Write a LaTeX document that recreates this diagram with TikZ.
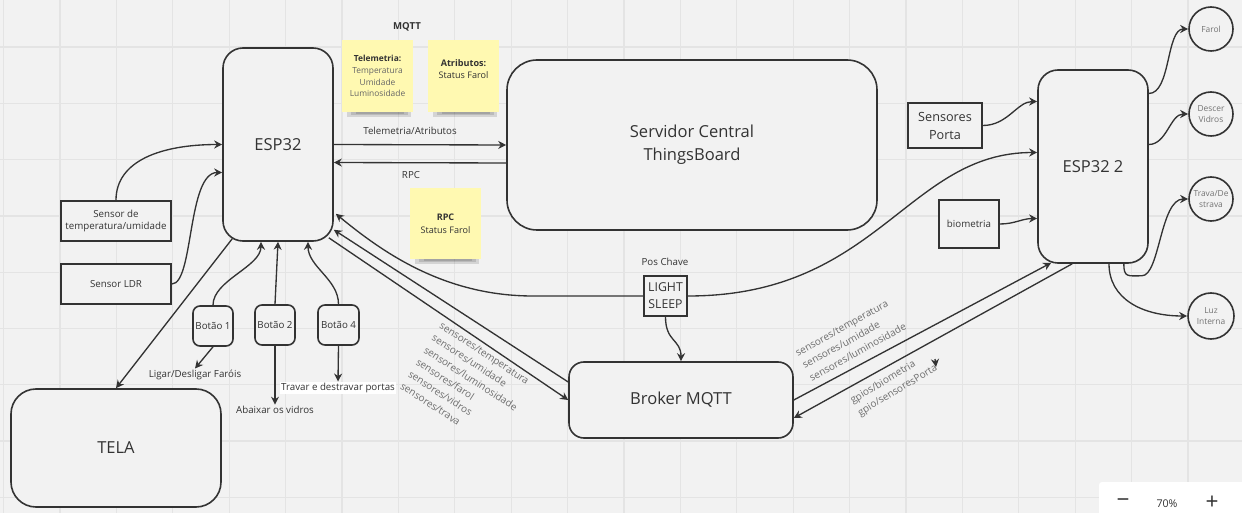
\documentclass[tikz,border=0pt]{standalone}
\usepackage{fontspec}
\setmainfont{Open Sans}
\usetikzlibrary{positioning,calc,arrows.meta}
\definecolor{bgcol}{HTML}{F2F2F2}
\definecolor{gridcol}{HTML}{E4E4E4}
\definecolor{inkcol}{HTML}{333333}
\definecolor{notecol}{HTML}{FFF9B1}
\definecolor{topiccol}{HTML}{6E6E6E}
\def\pxu{0.75pt}
\tikzset{
  dims/.style 2 args={minimum width=#1*\pxu, minimum height=#2*\pxu},
  block/.style={draw=inkcol, line width=1.2pt, fill=bgcol, text=inkcol,
    align=center, inner sep=0pt},
  bigtext/.style={font=\fontsize{12.4}{17.2}\selectfont},
  smalltext/.style={font=\fontsize{7.3}{9.2}\selectfont},
  lbl/.style={smalltext, text=inkcol, inner sep=1pt},
  note/.style={fill=notecol, align=center, inner sep=0pt, dims={71}{72},
    font=\fontsize{6.3}{8.8}\selectfont, text=inkcol},
  noteshadow/.style={fill=black, opacity=0.12},
  device/.style={block, circle, minimum size=44*\pxu,
    font=\fontsize{6.3}{8.6}\selectfont, text=black!55},
  topic/.style={font=\fontsize{7.5}{10.8}\selectfont, text=topiccol,
    align=left, inner sep=0pt},
  conn/.style={->, draw=inkcol, line width=1pt},
}
\begin{document}
\begin{tikzpicture}[x=0.75pt, y=-0.75pt, >={Stealth[length=6pt,width=6pt]}]
  \useasboundingbox (0,0) rectangle (1242,513);
  \fill[bgcol] (0,0) rectangle (1242,513);
  % grade do quadro
  \foreach \i in {0,...,21}
    \draw[gridcol, line width=1pt] (3.6+56.4*\i,0) -- ++(0,513);
  \foreach \j in {0,...,8}
    \draw[gridcol, line width=1pt] (0,47+56.3*\j) -- ++(1242,0);

  % placas e servidor
  \node[block, bigtext, dims={110}{193}, rounded corners=20*\pxu] (esp32) at (278,144.5) {ESP32};
  \node[block, bigtext, dims={370}{170}, rounded corners=30*\pxu] (server) at (692,145) {Servidor Central\\ThingsBoard};
  \node[block, bigtext, dims={110}{193}, rounded corners=20*\pxu] (esp32b) at (1093,166.5) {ESP32 2};
  \node[block, bigtext, dims={224}{76}, rounded corners=15*\pxu] (broker) at (681,400) {Broker MQTT};
  \node[block, bigtext, dims={210}{118}, rounded corners=25*\pxu] (tela) at (116,448) {TELA};

  % sensores
  \node[block, smalltext, dims={110}{40}] (tempsensor) at (116,221) {Sensor de\\temperatura/umidade};
  \node[block, smalltext, dims={110}{40}] (ldr) at (116,284) {Sensor LDR};
  \node[block, dims={74}{45}, font=\fontsize{9.5}{13.5}\selectfont] (sensporta) at (945,125.5) {Sensores\\Porta};
  \node[block, smalltext, dims={60}{48}] (biometria) at (969,224) {biometria};
  \node[block, dims={43}{40}, line width=1.5pt, font=\fontsize{9.2}{12.8}\selectfont] (sleep) at (665.5,296) {LIGHT\\SLEEP};
  \node[lbl] (poschave) at (665,262) {Pos Chave};

  % botoes
  \node[block, smalltext, dims={40}{40}, rounded corners=7*\pxu] (botao1) at (213,326) {Botão 1};
  \node[block, smalltext, dims={40}{40}, rounded corners=7*\pxu] (botao2) at (275,325) {Botão 2};
  \node[block, smalltext, dims={41}{40}, rounded corners=7*\pxu] (botao4) at (338.5,325) {Botão 4};
  \node[lbl] (ligar) at (195,375) {Ligar/Desligar Faróis};
  \node[lbl] (vidros) at (275,410) {Abaixar os vidros};
  \node[lbl, fill=white] (travar) at (338,388) {Travar e destravar portas};

  % atuadores
  \node[device] (farol) at (1211,29) {Farol};
  \node[device] (descer) at (1211,114) {Descer\\Vidros};
  \node[device] (trava) at (1211,199) {Trava/De\\strava};
  \node[device, minimum size=46*\pxu] (luz) at (1211,316) {Luz\\Interna};

  % notas MQTT
  \node[font=\bfseries\fontsize{7.2}{9}\selectfont, text=inkcol] (mqtt) at (407,27) {MQTT};
  \node[note] (notetele) at (377.5,76) {\textbf{Telemetria:}\\\color{black!60}Temperatura\\\color{black!60}Umidade\\\color{black!60}Luminosidade};
  \node[note] (noteattr) at (463.5,76) {};
  \node[note, fill=none, minimum size=0pt, font=\fontsize{6.8}{9}\selectfont] at ($(noteattr)+(0,-7)$) {\textbf{Atributos:}\\Status Farol};
  \node[note, dims={71}{71}, font=\fontsize{6.8}{9.5}\selectfont] (noterpc) at (445.5,223.5) {\textbf{RPC}\\Status Farol};
  \foreach \n in {notetele,noteattr,noterpc} {
    \fill[noteshadow] ($(\n.south west)+(5,0)$) rectangle ($(\n.south east)+(-2,5)$);
    \fill[noteshadow] ($(\n.south west)+(9,0)$) rectangle ($(\n.south east)+(-5,3)$);
    \fill[noteshadow] ($(\n.south west)+(14,0)$) rectangle ($(\n.south east)+(-9,1.5)$);
  }

  % ESP32 <-> servidor
  \draw[conn] (esp32.east) -- (server.west);
  \draw[conn] ($(server.west)+(0,18)$) -- ($(esp32.east)+(0,18)$);
  \node[lbl] at (410,131) {Telemetria/Atributos};
  \node[lbl] at (411,175) {RPC};

  % entradas da ESP32
  \draw[conn] (tempsensor.north) .. controls +(0,-40) and +(-60,0) .. (esp32.west);
  \draw[conn] (ldr.east) .. controls +(22,0) and +(-35,0) .. ($(esp32.west)+(0,28)$);
  \draw[conn] ($(esp32.south west)+(10,-3)$) -- (tela.north);
  \draw[conn] (botao1.north) .. controls +(0,-25) and +(0,25) .. ($(esp32.south)+(-17,0)$);
  \draw[conn] (botao2.north) -- (esp32.south);
  \draw[conn] (botao4.north) .. controls +(0,-25) and +(0,25) .. ($(esp32.south)+(30,0)$);
  \draw[conn] (botao1.south) -- (ligar.north);
  \draw[conn] (botao2.south) -- (vidros.north);
  \draw[conn] (botao4.south) -- (travar.north);

  % ESP32 <-> broker
  \draw[conn] ($(broker.west)+(0,-18)$) -- ($(esp32.south east)+(0,-12)$);
  \draw[conn] ($(esp32.south east)+(-5,-4)$) -- (broker.west);
  \node[topic, rotate=-33, anchor=west] (topicsa) at (421,355)
    {sensores/temperatura\\sensores/umidade\\sensores/luminosidade\\sensores/farol\\sensores/vidros\\sensores/trava};

  % chave
  \draw[conn] (sleep.west) -- ++(-110,0) .. controls +(-90,0) and +(45,37) .. ($(esp32.south east)+(2,-28)$);
  \draw[conn] (sleep.east) .. controls +(190,0) and +(-130,0) .. ($(esp32b.west)+(0,-14)$);
  \draw[conn] (sleep.south) .. controls +(0,25) and +(0,-22) .. (broker.north);

  % ESP32 2
  \draw[conn] (sensporta.east) .. controls +(25,0) and +(-20,0) .. ($(esp32b.west)+(0,-65)$);
  \draw[conn] (biometria.east) .. controls +(15,0) and +(-15,0) .. ($(esp32b.west)+(0,52)$);
  \draw[conn] ($(esp32b.east)+(0,-73)$) .. controls +(22,0) and +(-22,0) .. (farol.west);
  \draw[conn] ($(esp32b.east)+(0,-22)$) .. controls +(18,0) and +(-18,0) .. (descer.west);
  \draw[conn] ($(esp32b.south east)+(-25,0)$) .. controls +(0,14) and +(-14,0) .. ++(18,12)
    .. controls +(18,0) and +(-28,0) .. (trava.west);
  \draw[conn] ($(esp32b.south)+(16,0)$) .. controls +(0,35) and +(-45,0) .. (luz.west);

  % broker <-> ESP32 2
  \draw[conn] (broker.east) -- ($(esp32b.south west)+(14,-1)$);
  \draw[conn] ($(esp32b.south west)+(35,0)$) -- ($(broker.east)+(0,18)$);
  \node[topic, rotate=29, anchor=west] (topicsb) at (803,366)
    {sensores/temperatura\\sensores/umidade\\sensores/luminosidade};
  \node[topic, rotate=31, anchor=west] (topicsc) at (855,408)
    {gpios/biometria\\gpio/sensoresPorta};
  \coordinate (stray) at (936,367);
  \draw[conn] ($(stray)+(-1,-8)$) -- (stray);

  % controle de zoom
  \fill[white, rounded corners=3*\pxu] (1099,482) rectangle (1250,520);
  \node[font=\fontsize{17}{17}\selectfont, text=inkcol, inner sep=0pt] (zoomout) at (1123,503) {−};
  \node[font=\fontsize{8}{10}\selectfont, text=inkcol] (zoomval) at (1167,504) {70\%};
  \node[font=\fontsize{17}{17}\selectfont, text=inkcol, inner sep=0pt] (zoomin) at (1212,503) {+};
\end{tikzpicture}
\end{document}
